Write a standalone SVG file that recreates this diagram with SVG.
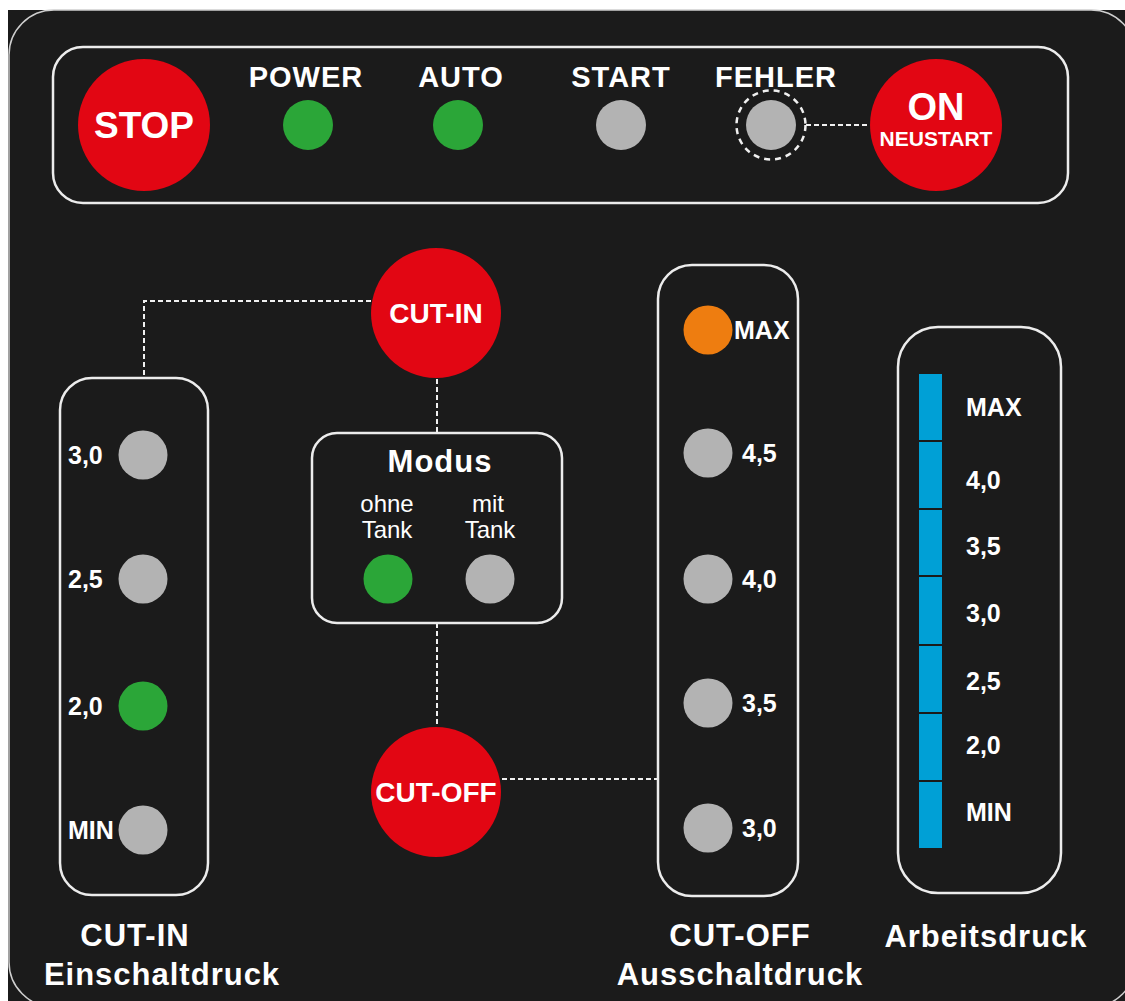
<svg xmlns="http://www.w3.org/2000/svg" width="1125" height="1001" viewBox="0 0 1125 1001">
<style>
.box{fill:none;stroke:#ececec;stroke-width:2.5}
.red{fill:#e20613}
.grn{fill:#2ba638}
.gry{fill:#b3b3b3}
.org{fill:#ee7d10}
.blu{fill:#00a0d6}
.dash{fill:none;stroke:#f0f0f0;stroke-width:2;stroke-dasharray:5 3}
text{font-family:"Liberation Sans",Arial,sans-serif;font-weight:bold;fill:#ffffff}
.hd{font-size:29px;letter-spacing:1px;text-anchor:middle}
.tt{font-size:31px;letter-spacing:1px;text-anchor:middle}
.lb{font-size:25px}
.bt{font-size:28px;text-anchor:middle}
.rg{font-weight:normal;font-size:24px;text-anchor:middle}
</style>
<rect x="0" y="0" width="1125" height="1001" fill="#ffffff"/>
<rect x="8" y="10" width="1117" height="991" fill="#1b1b1b"/>
<rect x="9" y="10" width="1127" height="997" rx="45" fill="none" stroke="#cfcfcf" stroke-width="1.5"/>

<g id="top-panel">
<rect class="box" x="53" y="47" width="1015" height="156" rx="30"/>
</g>
<g id="stop"><circle class="red" cx="144" cy="125" r="66"/><text x="144" y="138" font-size="37" text-anchor="middle">STOP</text></g>
<g id="power"><text class="hd" x="306" y="87">POWER</text><circle class="grn" cx="308" cy="125" r="25"/></g>
<g id="auto"><text class="hd" x="461" y="87">AUTO</text><circle class="grn" cx="458" cy="125" r="25"/></g>
<g id="start"><text class="hd" x="621" y="87">START</text><circle class="gry" cx="621" cy="125" r="25"/></g>
<g id="fehler"><text class="hd" x="776" y="87">FEHLER</text><circle class="gry" cx="771" cy="125" r="25"/><circle cx="771" cy="125" r="34.5" fill="none" stroke="#f0f0f0" stroke-width="2.5" stroke-dasharray="6 5"/></g>
<g id="on"><circle class="red" cx="936" cy="125" r="66"/><text x="936" y="120" font-size="38" text-anchor="middle">ON</text><text x="936" y="146" font-size="21" text-anchor="middle">NEUSTART</text></g>

<g id="connectors">
<path class="dash" d="M806 125 H870"/>
<path class="dash" d="M371 301 H144 V378"/>
<path class="dash" d="M437 379 V433"/>
<path class="dash" d="M437 623 V727"/>
<path class="dash" d="M502 779 H658"/>
</g>

<g id="cut-in"><circle class="red" cx="436" cy="313" r="65"/><text class="bt" x="436" y="323">CUT-IN</text></g>
<g id="cut-off"><circle class="red" cx="436" cy="792" r="65"/><text class="bt" x="436" y="802">CUT-OFF</text></g>

<g id="modus">
<rect class="box" x="312" y="433" width="250" height="190" rx="25"/>
<text x="440" y="472" font-size="31" letter-spacing="1" text-anchor="middle">Modus</text>
<text class="rg" x="387" y="512">ohne</text><text class="rg" x="387" y="538">Tank</text>
<text class="rg" x="488" y="512">mit</text><text class="rg" x="490" y="538">Tank</text>
<circle class="grn" cx="388" cy="579" r="24.5"/>
<circle class="gry" cx="490" cy="579" r="24.5"/>
</g>

<g id="cut-in-scale">
<rect class="box" x="60" y="378" width="148" height="517" rx="32"/>
<circle class="gry" cx="143" cy="455" r="24.5"/><text class="lb" x="68" y="464">3,0</text>
<circle class="gry" cx="143" cy="579" r="24.5"/><text class="lb" x="68" y="588">2,5</text>
<circle class="grn" cx="143" cy="706" r="24.5"/><text class="lb" x="68" y="715">2,0</text>
<circle class="gry" cx="143" cy="830" r="24.5"/><text class="lb" x="68" y="839">MIN</text>
<text class="tt" x="135" y="946">CUT-IN</text>
<text class="tt" x="162" y="985">Einschaltdruck</text>
</g>

<g id="cut-off-scale">
<rect class="box" x="658" y="265" width="140" height="631" rx="34"/>
<circle class="org" cx="708" cy="330" r="24.5"/><text class="lb" x="734" y="339">MAX</text>
<circle class="gry" cx="708" cy="453" r="24.5"/><text class="lb" x="742" y="462">4,5</text>
<circle class="gry" cx="708" cy="579" r="24.5"/><text class="lb" x="742" y="588">4,0</text>
<circle class="gry" cx="708" cy="703" r="24.5"/><text class="lb" x="742" y="712">3,5</text>
<circle class="gry" cx="708" cy="828" r="24.5"/><text class="lb" x="742" y="837">3,0</text>
<text class="tt" x="740" y="946">CUT-OFF</text>
<text class="tt" x="740" y="985">Ausschaltdruck</text>
</g>

<g id="arbeitsdruck">
<rect class="box" x="898" y="327" width="163" height="566" rx="40"/>
<rect class="blu" x="919" y="374" width="23" height="66"/>
<rect class="blu" x="919" y="442" width="23" height="66"/>
<rect class="blu" x="919" y="510" width="23" height="65"/>
<rect class="blu" x="919" y="577" width="23" height="67"/>
<rect class="blu" x="919" y="646" width="23" height="66"/>
<rect class="blu" x="919" y="714" width="23" height="66"/>
<rect class="blu" x="919" y="782" width="23" height="66"/>
<text class="lb" x="966" y="416">MAX</text>
<text class="lb" x="966" y="489">4,0</text>
<text class="lb" x="966" y="555">3,5</text>
<text class="lb" x="966" y="622">3,0</text>
<text class="lb" x="966" y="690">2,5</text>
<text class="lb" x="966" y="754">2,0</text>
<text class="lb" x="966" y="821">MIN</text>
<text class="tt" x="986" y="947">Arbeitsdruck</text>
</g>
</svg>
